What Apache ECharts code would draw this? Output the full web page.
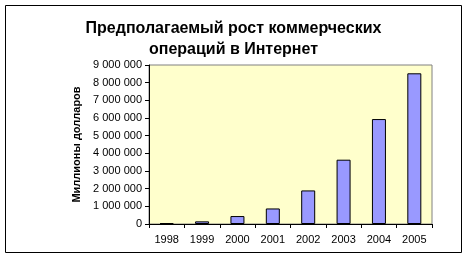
<!DOCTYPE html>
<html>
<head>
<meta charset="utf-8">
<script src="https://cdn.jsdelivr.net/npm/echarts@6/dist/echarts.min.js"></script>
<style>
  html, body { margin: 0; padding: 0; background: #fff; }
  #chart { width: 467px; height: 258px; }
</style>
</head>
<body>
<div id="chart"></div>
<script>
// data
var years = ['1998', '1999', '2000', '2001', '2002', '2003', '2004', '2005'];
var values = [50000, 150000, 450000, 880000, 1900000, 3640000, 5940000, 8530000];

var titleText = 'Предполагаемый рост коммерческих\nопераций в Интернет';
var yName = 'Миллионы долларов';

function fmt(v) {
    // 1000000 -> "1 000 000"
    return String(v).replace(/\B(?=(\d{3})+(?!\d))/g, ' ');
}

var chart = echarts.init(document.getElementById('chart'));
var option = {
    backgroundColor: '#fff',
    animation: false,
    title: {
        text: titleText,
        left: 'center',
        top: 13,
        textStyle: {
            fontFamily: 'Arial, Liberation Sans',
            fontSize: 16,
            fontWeight: 'bold',
            color: '#000',
            lineHeight: 21
        }
    },
    grid: {
        left: 149,
        right: 35,
        top: 65,
        bottom: 34,
        show: true,
        backgroundColor: '#FFFFCC',
        borderColor: '#808080',
        borderWidth: 1
    },
    xAxis: {
        type: 'category',
        data: years,
        axisLine: { lineStyle: { color: '#000', width: 1 } },
        axisTick: { show: true, length: 4, lineStyle: { color: '#000' } },
        axisLabel: {
            fontFamily: 'Arial, Liberation Sans',
            fontSize: 11,
            color: '#000',
            margin: 10
        }
    },
    yAxis: {
        type: 'value',
        min: 0,
        max: 9000000,
        interval: 1000000,
        name: yName,
        nameLocation: 'middle',
        nameGap: 62,
        nameTextStyle: {
            fontFamily: 'Arial, Liberation Sans',
            fontSize: 11,
            fontWeight: 'bold',
            color: '#000'
        },
        axisLine: { show: true, lineStyle: { color: '#000', width: 1 } },
        axisTick: { show: true, length: 4, lineStyle: { color: '#000' } },
        splitLine: { show: false },
        axisLabel: {
            fontFamily: 'Arial, Liberation Sans',
            fontSize: 11,
            color: '#000',
            margin: 7,
            formatter: fmt
        }
    },
    series: [{
        type: 'bar',
        data: values,
        barWidth: 14,
        itemStyle: {
            color: '#9999FF',
            borderColor: '#000',
            borderWidth: 1
        }
    }],
    graphic: [{
        type: 'rect',
        shape: { x: 5.5, y: 5.5, width: 456, height: 247 },
        style: { fill: 'none', stroke: '#000', lineWidth: 1 },
        silent: true
    }]
};
chart.setOption(option);
</script>
</body>
</html>
